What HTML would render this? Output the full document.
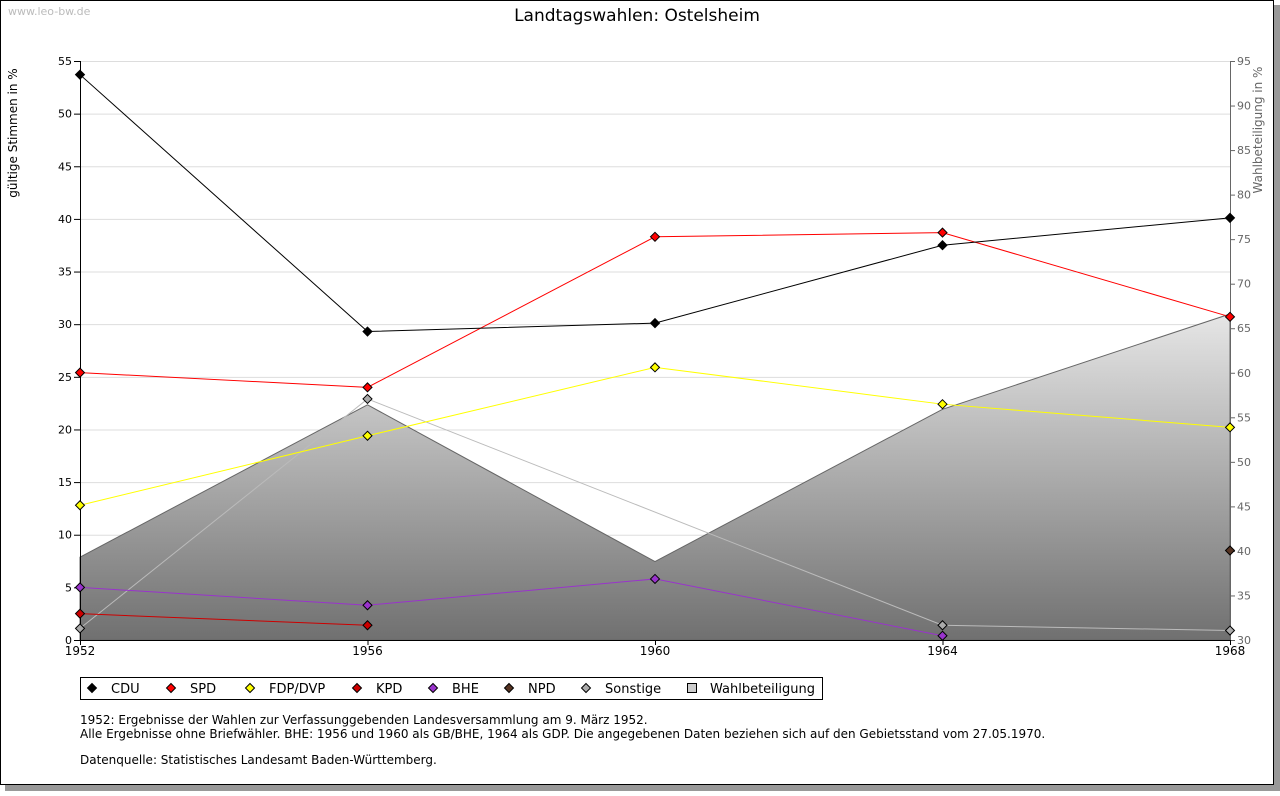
<!DOCTYPE html>
<html><head><meta charset="utf-8"><style>
body{margin:0;background:#fff;font-family:"Liberation Sans","DejaVu Sans",sans-serif;}
</style></head><body>
<svg id="c" width="1280" height="791" xmlns="http://www.w3.org/2000/svg" font-family="'DejaVu Sans','Liberation Sans',sans-serif">
<defs><linearGradient id="ag" x1="0" y1="0" x2="0" y2="1"><stop offset="0" stop-color="#e6e6e6"/><stop offset="1" stop-color="#707070"/></linearGradient></defs>
<rect x="5" y="5" width="1275" height="786" fill="#999"/>
<rect x="0.5" y="0.5" width="1273" height="784" fill="#fff" stroke="#000"/>
<text x="8" y="15" font-size="11" fill="#bbb">www.leo-bw.de</text>
<text x="637" y="21" font-size="17" text-anchor="middle">Landtagswahlen: Ostelsheim</text>
<text transform="translate(17,133) rotate(-90)" font-size="12" text-anchor="middle">gültige Stimmen in %</text>
<text transform="translate(1262,130) rotate(-90)" font-size="12" fill="#666" text-anchor="middle">Wahlbeteiligung in %</text>
<g id="grid"></g><g id="area"></g><g id="axes"></g><g id="series"></g>
<g>
<rect x="80.5" y="677.5" width="742" height="22" fill="#fff" stroke="#000"/>
<g id="leg"></g></g>
<g font-size="12">
<text x="80" y="724">1952: Ergebnisse der Wahlen zur Verfassunggebenden Landesversammlung am 9. März 1952.</text>
<text x="80" y="738">Alle Ergebnisse ohne Briefwähler. BHE: 1956 und 1960 als GB/BHE, 1964 als GDP. Die angegebenen Daten beziehen sich auf den Gebietsstand vom 27.05.1970.</text>
<text x="80" y="764">Datenquelle: Statistisches Landesamt Baden-Württemberg.</text>
</g>
</svg>
<script>
const years=[1952,1956,1960,1964,1968];
const cdu=[53.7,29.3,30.1,37.5,40.1];
const spd=[25.4,24.0,38.3,38.7,30.7];
const fdp=[12.8,19.4,25.9,22.4,20.2];
const kpd=[2.5,1.4,null,null,null];
const bhe=[5.0,3.3,5.8,0.4,null];
const npd=[null,null,null,null,8.5];
const sonst=[1.1,22.9,null,1.4,0.9];
const turnout=[39.3,56.4,38.8,55.9,66.6];
const leftTicks=[0,5,10,15,20,25,30,35,40,45,50,55];
const rightTicks=[30,35,40,45,50,55,60,65,70,75,80,85,90,95];
const NS="http://www.w3.org/2000/svg";
const X0=80,X1=1230,Y0=640,Y1=61;
const x=v=>X0+(v-1952)/(1968-1952)*(X1-X0);
const y=v=>Y0-v/55*(Y0-Y1);
const y2=v=>Y0-(v-30)/65*(Y0-Y1);
function mk(t,a,p){const e=document.createElementNS(NS,t);for(const k in a)e.setAttribute(k,a[k]);p.appendChild(e);return e;}
const G=document.getElementById('grid'),A=document.getElementById('area'),AX=document.getElementById('axes'),S=document.getElementById('series'),L=document.getElementById('leg');
leftTicks.forEach(t=>{const l=mk('line',{x1:X0,x2:X1,y1:y(t)+.5,y2:y(t)+.5,stroke:'#ddd'},G);


mk('line',{x1:X0-6,x2:X0,y1:y(t)+.5,y2:y(t)+.5,stroke:'#000'},AX);
const tx=mk('text',{x:X0-8,y:y(t)+4,'font-size':11,'text-anchor':'end'},AX);tx.textContent=t;

});
rightTicks.forEach(t=>{mk('line',{x1:X1,x2:X1+5,y1:y2(t)+.5,y2:y2(t)+.5,stroke:'#666'},AX);
const tx=mk('text',{x:X1+7,y:y2(t)+4,'font-size':11,fill:'#666'},AX);tx.textContent=t;

});
let d='M'+X0+','+Y0;years.forEach((yr,i)=>d+=' L'+x(yr)+','+y2(turnout[i]));d+=' L'+X1+','+Y0+'Z';
const ar=mk('path',{d:d,fill:'url(#ag)',stroke:'#666'},A);


mk('line',{x1:X0+.5,x2:X0+.5,y1:Y1,y2:Y0,stroke:'#000'},AX);
mk('line',{x1:X1+.5,x2:X1+.5,y1:Y1,y2:Y0,stroke:'#666'},AX);
mk('line',{x1:X0,x2:X1,y1:Y0+.5,y2:Y0+.5,stroke:'#000'},AX);
years.forEach(yr=>{mk('line',{x1:x(yr)+.5,x2:x(yr)+.5,y1:Y0,y2:Y0+5,stroke:'#000'},AX);
const tx=mk('text',{x:x(yr),y:Y0+15,'font-size':12,'text-anchor':'middle'},AX);tx.textContent=yr;

});
function series(vals,col,mcol,name,sc){const g=mk('g',{},S);


const pts=[];vals.forEach((v,i)=>{if(v!=null)pts.push([x(years[i]),sc(v)]);});
if(pts.length>1)mk('polyline',{points:pts.map(p=>p.join(',')).join(' '),fill:'none',stroke:col},g);
pts.forEach(p=>{const m=mk('path',{d:`M${p[0]},${p[1]-4.5} L${p[0]+4.5},${p[1]} L${p[0]},${p[1]+4.5} L${p[0]-4.5},${p[1]}Z`,fill:mcol,stroke:'#000','stroke-width':1},g);

});}
series(sonst,'#bbb','#aaa','sonstige',y);
series(bhe,'#9933cc','#9933cc','bhe',y);
series(kpd,'#cc0000','#cc0000','kpd',y);
series(npd,'#553322','#553322','npd',y);
series(fdp,'#ffff00','#ffff00','fdp',y);
series(spd,'#ff0000','#ff0000','spd',y);
series(cdu,'#000','#000','cdu',y);
const leg=[['CDU','#000',92],['SPD','#ff0000',171],['FDP/DVP','#ffff00',250],['KPD','#cc0000',357],['BHE','#9933cc',433],['NPD','#553322',509],['Sonstige','#aaa',586]];
leg.forEach(l=>{const g=mk('g',{},L);


const cx=l[2],cy=688;mk('path',{d:`M${cx},${cy-4.5} L${cx+4.5},${cy} L${cx},${cy+4.5} L${cx-4.5},${cy}Z`,fill:l[1],stroke:'#000'},g);
const t=mk('text',{x:cx+19,y:cy+5,'font-size':13},g);t.textContent=l[0];});
const g=mk('g',{},L);


mk('rect',{x:687.5,y:683.5,width:9,height:9,fill:'#ccc',stroke:'#000'},g);
const t=mk('text',{x:710,y:693,'font-size':13},g);t.textContent='Wahlbeteiligung';
</script>
</body></html>
